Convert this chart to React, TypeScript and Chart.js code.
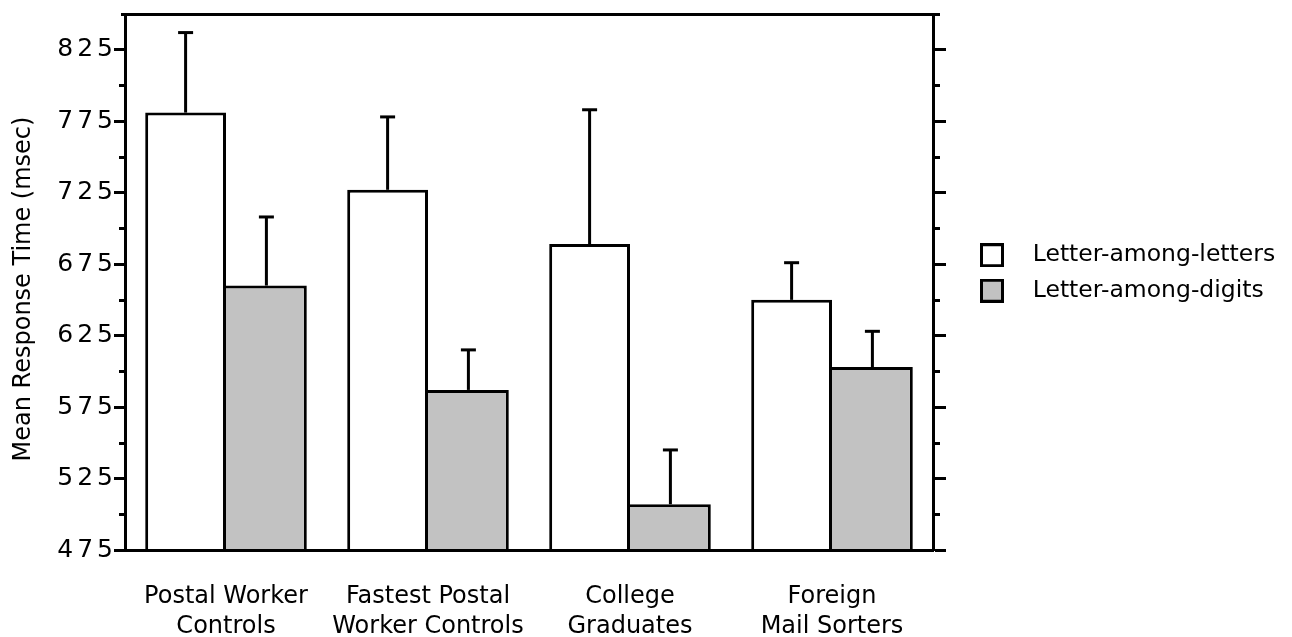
import React, { useEffect, useRef } from 'react';
import { Chart, registerables, LinearScale } from 'chart.js';

Chart.register(...registerables);

// ---- data ----
const categories: string[][] = [
  ['Postal Worker', 'Controls'],
  ['Fastest Postal', 'Worker Controls'],
  ['College', 'Graduates'],
  ['Foreign', 'Mail Sorters'],
];
const seriesNames = ['Letter-among-letters', 'Letter-among-digits'];
const lettersMean = [781, 727, 689, 650];
const lettersErr = [56, 51, 94, 26];
const digitsMean = [660, 587, 507, 603];
const digitsErr = [48, 28, 38, 25];
const yMin = 475;
const yMax = 850;
const yStep = 25;
const yLabelStep = 50;
const yTitle = 'Mean Response Time (msec)';

// ---- style ----
const FONT = "'DejaVu Sans', sans-serif";
const GREY = '#c2c2c2';
const errors = [lettersErr, digitsErr];
const fills = ['#ffffff', GREY];

// linear scale whose tick labels are letter-spaced like the original typesetting
class SpacedLinearScale extends (LinearScale as any) {
  static id = 'spacedLinear';
  drawLabels(area: any) {
    const ctx = (this as any).ctx;
    ctx.save();
    ctx.letterSpacing = '4px';
    ctx.translate(3, 0);
    super.drawLabels(area);
    ctx.restore();
  }
  drawTitle() {
    const ctx = (this as any).ctx;
    ctx.save();
    ctx.translate(1, 7);
    super.drawTitle();
    ctx.restore();
  }
}
Chart.register(SpacedLinearScale as any);

function makeSwatch(fill: string) {
  const c = document.createElement('canvas');
  c.width = 41;
  c.height = 24;
  const g = c.getContext('2d')!;
  g.fillStyle = fill;
  g.fillRect(1.5, 1.5, 21, 21);
  g.lineWidth = 3;
  g.strokeStyle = '#000';
  g.strokeRect(1.5, 1.5, 21, 21);
  return c;
}

const isMajor = (v: number) => Math.abs(((v - yMin) % yLabelStep)) < 1e-6;

const decorPlugin = {
  id: 'decor',
  afterLayout(chart: any) {
    const lg = chart.legend;
    if (lg) {
      const w = lg.width;
      const h = lg.height;
      lg.left = 968;
      lg.right = 968 + w;
      lg.top = 231.5;
      lg.bottom = 231.5 + h;
    }
  },
  afterDatasetsDraw(chart: any) {
    const ctx = chart.ctx;
    const y = chart.scales.y;
    ctx.save();
    ctx.strokeStyle = '#000';
    ctx.lineWidth = 3;
    chart.data.datasets.forEach((ds: any, i: number) => {
      const meta = chart.getDatasetMeta(i);
      meta.data.forEach((bar: any, j: number) => {
        const v = ds.data[j] as number;
        const top = y.getPixelForValue(v + errors[i][j]);
        ctx.beginPath();
        ctx.moveTo(bar.x, bar.y);
        ctx.lineTo(bar.x, top);
        ctx.stroke();
        ctx.beginPath();
        ctx.moveTo(bar.x - 7.5, top);
        ctx.lineTo(bar.x + 7.5, top);
        ctx.stroke();
      });
    });
    ctx.restore();
  },
  afterDraw(chart: any) {
    const ctx = chart.ctx;
    const a = chart.chartArea;
    const y = chart.scales.y;
    ctx.save();
    ctx.strokeStyle = '#000';
    ctx.lineWidth = 3;
    const top = Math.round(a.top) + 0.5;
    const bottom = Math.round(a.bottom) + 0.5;
    ctx.beginPath();
    ctx.moveTo(a.left - 4, top);
    ctx.lineTo(a.right + 7, top);
    ctx.moveTo(a.left, bottom);
    ctx.lineTo(a.right, bottom);
    ctx.stroke();
    y.ticks.forEach((t: any) => {
      if (!isMajor(t.value) && t.value < yMax) {
        const py = Math.round(y.getPixelForValue(t.value)) + 0.5;
        ctx.beginPath();
        ctx.moveTo(a.left - 6, py);
        ctx.lineTo(a.left, py);
        ctx.moveTo(a.right, py);
        ctx.lineTo(a.right + 7, py);
        ctx.stroke();
      }
    });
    ctx.restore();
  },
};

export default function App() {
  const ref = useRef<HTMLCanvasElement | null>(null);

  useEffect(() => {
    if (!ref.current) return;
    Chart.defaults.font.family = FONT;
    Chart.defaults.color = '#000';
    const swatches = fills.map(makeSwatch);

    const chart = new Chart(ref.current, {
      type: 'bar',
      data: {
        labels: categories,
        datasets: [
          {
            label: seriesNames[0],
            data: lettersMean,
            backgroundColor: fills[0],
            borderColor: '#000',
            borderWidth: { top: 3, left: 3, right: 3, bottom: 0 },
            borderSkipped: false,
            barPercentage: 1,
            categoryPercentage: 0.8,
            yAxisID: 'y',
          },
          {
            label: seriesNames[1],
            data: digitsMean,
            backgroundColor: fills[1],
            borderColor: '#000',
            borderWidth: { top: 3, left: 0, right: 3, bottom: 0 },
            borderSkipped: false,
            barPercentage: 1,
            categoryPercentage: 0.8,
            yAxisID: 'y',
          },
        ],
      },
      options: {
        animation: false,
        responsive: true,
        maintainAspectRatio: false,
        layout: { padding: { top: 14, left: 0, right: 0, bottom: 0 } },
        plugins: {
          tooltip: { enabled: false },
          legend: {
            position: 'right',
            align: 'start',
            maxWidth: 340,
            labels: {
              font: { size: 23.5, family: FONT },
              color: '#000',
              padding: 12,
              usePointStyle: true,
              pointStyleWidth: 41,
              boxHeight: 23,
              generateLabels: () =>
                seriesNames.map((name, i) => ({
                  text: name,
                  fillStyle: fills[i],
                  strokeStyle: '#000',
                  lineWidth: 3,
                  hidden: false,
                  datasetIndex: i,
                  pointStyle: swatches[i] as any,
                  fontColor: '#000',
                })),
            },
          },
        },
        scales: {
          x: {
            z: 1,
            grid: { display: false, drawTicks: false },
            border: { display: true, color: '#000', width: 3 },
            ticks: {
              font: { size: 24, family: FONT, lineHeight: 30 / 24 },
              color: '#000',
              padding: 32,
              maxRotation: 0,
              autoSkip: false,
            },
            afterFit: (s: any) => {
              s.height = 87;
            },
          },
          y: {
            type: 'spacedLinear',
            position: 'left',
            min: yMin,
            max: yMax,
            title: {
              display: true,
              text: yTitle,
              font: { size: 24, family: FONT },
              color: '#000',
              padding: { top: 8, bottom: 4 },
            },
            ticks: {
              stepSize: yStep,
              includeBounds: false,
              font: { size: 25, family: FONT },
              color: '#000',
              padding: 0,
              callback: (v: any) => (isMajor(Number(v)) ? String(v) : ''),
            },
            grid: {
              drawOnChartArea: false,
              drawTicks: true,
              tickLength: 11,
              tickWidth: 3,
              tickColor: (c: any) => (c.tick && isMajor(c.tick.value) ? '#000' : 'rgba(0,0,0,0)'),
            },
            border: { display: true, color: '#000', width: 3 },
            afterFit: (s: any) => {
              s.width = 125;
              s.paddingTop = 0;
              s.paddingBottom = 0;
            },
          },
          y2: {
            position: 'right',
            min: yMin,
            max: yMax,
            ticks: {
              stepSize: yStep,
              includeBounds: false,
              display: false,
            },
            grid: {
              drawOnChartArea: false,
              drawTicks: true,
              tickLength: 13,
              tickWidth: 3,
              tickColor: (c: any) => (c.tick && isMajor(c.tick.value) ? '#000' : 'rgba(0,0,0,0)'),
            },
            border: { display: true, color: '#000', width: 3 },
            afterFit: (s: any) => {
              const lw = s.chart.legend ? s.chart.legend.width : 0;
              s.width = Math.max(0, s.chart.width - 933 - lw);
              s.paddingTop = 0;
              s.paddingBottom = 0;
            },
          },
        },
      },
      plugins: [decorPlugin],
    } as any);

    return () => {
      chart.destroy();
    };
  }, []);

  return (
    <div style={{ position: 'absolute', left: 0, top: 0, width: 1292, height: 637 }}>
      <canvas ref={ref} />
    </div>
  );
}
